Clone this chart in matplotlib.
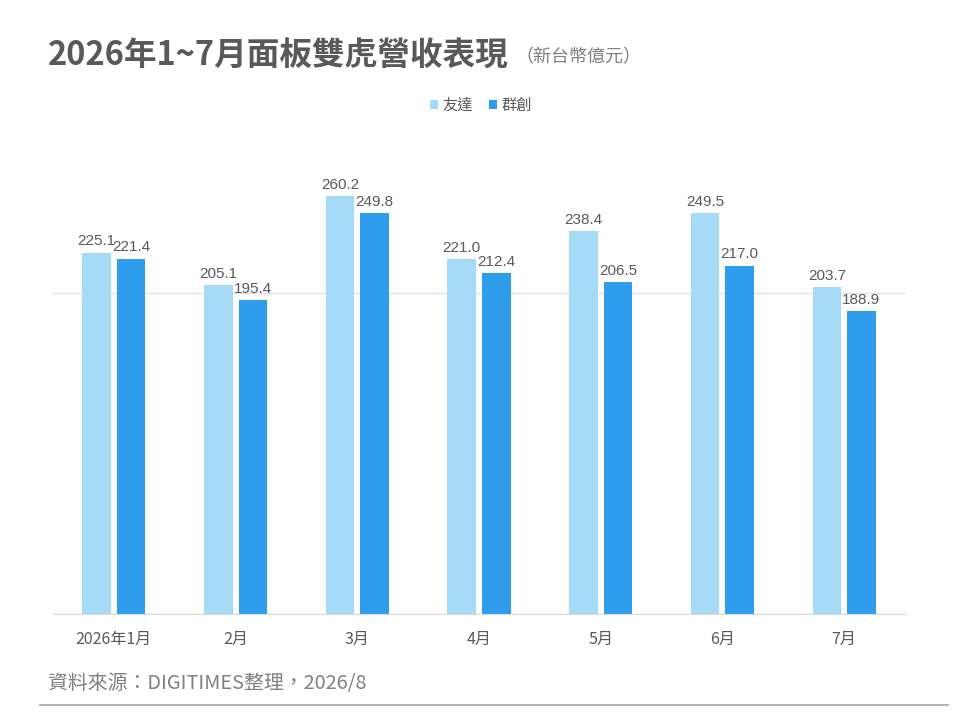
import matplotlib.pyplot as plt
import numpy as np

plt.rcParams['font.family'] = ['Noto Sans CJK TC', 'DejaVu Sans']

# 資料
months = ['2026年1月', '2月', '3月', '4月', '5月', '6月', '7月']
auo = [225.1, 205.1, 260.2, 221.0, 238.4, 249.5, 203.7]
innolux = [221.4, 195.4, 249.8, 212.4, 206.5, 217.0, 188.9]
series_names = ['友達', '群創']

light_blue = '#A6DBF8'
dark_blue = '#2F9DEC'
text_gray = '#595959'

fig = plt.figure(figsize=(9.6, 7.2), dpi=100)
ax = fig.add_axes([0.0552, 0.1472, 0.8875, 0.669])

x = np.arange(len(months))
w = 0.235
off = 0.142
b1 = ax.bar(x - off, auo, w, color=light_blue, label=series_names[0])
b2 = ax.bar(x + off, innolux, w, color=dark_blue, label=series_names[1])

for bars in (b1, b2):
    for rect in bars:
        h = rect.get_height()
        ax.annotate(f'{h:.1f}', (rect.get_x() + rect.get_width() / 2, h),
                    xytext=(0, 3), textcoords='offset points',
                    ha='center', va='bottom', fontsize=11, color=text_gray,
                    family=['Liberation Sans', 'DejaVu Sans'])

ax.set_xlim(-0.5, len(months) - 0.5)
ax.set_ylim(0, 300)
ax.set_yticks([0, 200])
ax.yaxis.grid(True, color='#E3E3E3', linewidth=1)
ax.set_axisbelow(True)
ax.tick_params(axis='y', left=False, labelleft=False)
ax.tick_params(axis='x', length=0, pad=12, labelsize=11.5, labelcolor=text_gray)
ax.set_xticks(x)
ax.set_xticklabels(months)
for s in ['top', 'right', 'left']:
    ax.spines[s].set_visible(False)
ax.spines['bottom'].set_color('#D9D9D9')

leg = fig.legend(handles=[b1, b2], labels=series_names, loc='center',
                 bbox_to_anchor=(0.501, 0.854), ncol=2, frameon=False,
                 fontsize=11, handlelength=0.55, handleheight=0.55,
                 handletextpad=0.3, columnspacing=1.0)
for t in leg.get_texts():
    t.set_color(text_gray)

fig.text(0.050, 0.922, '2026年1~7月面板雙虎營收表現', fontsize=23.5, fontweight='bold',
         color=text_gray, va='center')
fig.text(0.537, 0.920, '（新台幣億元）', fontsize=13, color='#7F7F7F', va='center')

fig.text(0.050, 0.051, '資料來源：DIGITIMES整理，2026/8', fontsize=14.3,
         color='#808080', va='center')
fig.add_artist(plt.Line2D([0.042, 0.988], [0.021, 0.021], color='#A6A6A6',
                          linewidth=1.2, transform=fig.transFigure))

fig.savefig('out.png', dpi=100)
